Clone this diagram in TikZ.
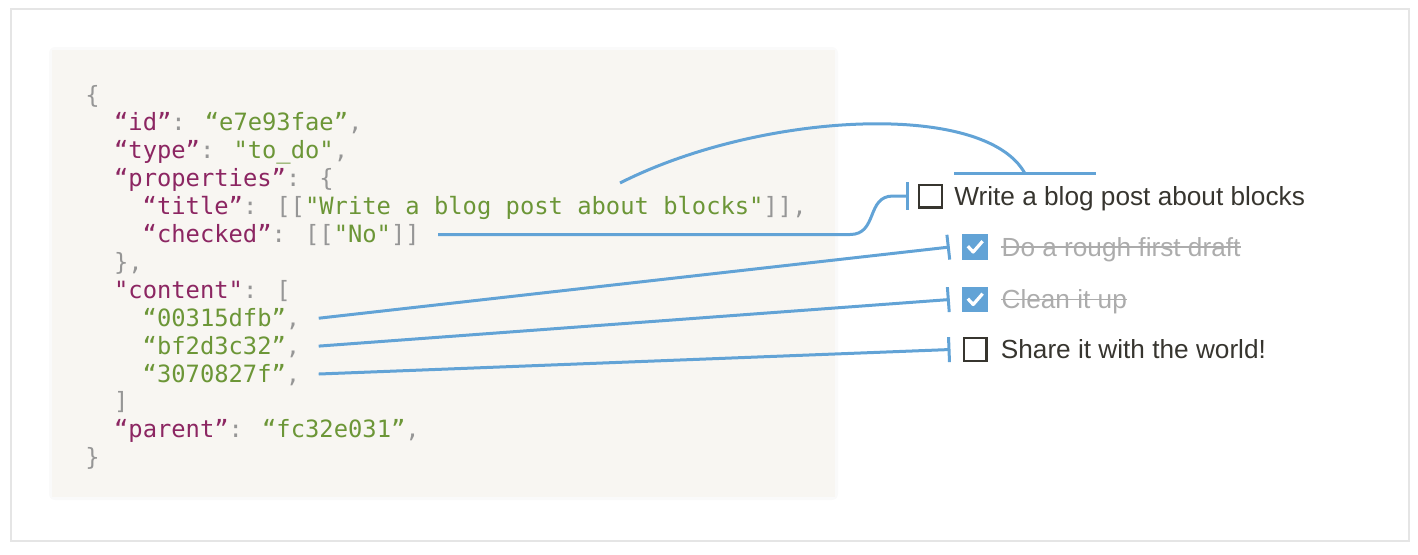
\documentclass[tikz,border=0pt]{standalone}
\usepackage{fontspec}
\usepackage{xcolor}
\usetikzlibrary{positioning,calc,arrows.meta}
\newfontfamily\codefont{DejaVu Sans Mono}
\newfontfamily\itemfont{Liberation Sans}
\definecolor{jkey}{RGB}{140,38,98}
\definecolor{jval}{RGB}{108,150,55}
\definecolor{jpun}{RGB}{150,150,150}
\definecolor{panel}{RGB}{248,246,242}
\definecolor{linkblue}{RGB}{98,163,214}
\definecolor{ink}{RGB}{55,53,47}
\definecolor{done}{RGB}{172,172,172}
\NewDocumentCommand\ky{m}{\textcolor{jkey}{#1}}
\NewDocumentCommand\vl{m}{\textcolor{jval}{#1}}
\NewDocumentCommand\pn{m}{\textcolor{jpun}{#1}}

\begin{document}
\begin{tikzpicture}[x=0.5pt,y=-0.5pt,
  jline/.style={anchor=base west,inner sep=0pt,text height=10pt,text depth=2pt,font=\codefont\fontsize{11.9pt}{14pt}\selectfont},
  cbox/.style={draw=ink,line width=1.1pt,minimum size=11.4pt,inner sep=0pt},
  cboxon/.style={fill=linkblue,minimum size=12.8pt,inner sep=0pt},
  item/.style={anchor=west,inner sep=0pt,text height=11pt,text depth=2pt,text=ink,font=\itemfont\fontsize{13.1pt}{16pt}\selectfont},
  itemdone/.style={item,text=done},
  wire/.style={draw=linkblue,line width=1.5pt,-{Bar[width=12.5pt]}}]
            \useasboundingbox (0,0) rectangle (1418,554);
            \fill[black!2,rounded corners=3pt] (49,47) rectangle (838,500);
            \fill[panel] (52,50) rectangle (835,497);
            \draw[black!10,line width=0.9pt] (11,9) rectangle (1409,541);
            \node[jline] (open) at (85,103) {\pn{\{}};
            \node[jline] (id) at (113.7,130.9) {\ky{“id”}\pn{:} \vl{“e7e93fae”}\pn{,}};
            \node[jline] (type) at (113.7,158.8) {\ky{“type”}\pn{:} \vl{"to\_do"}\pn{,}};
            \node[jline] (props) at (113.7,186.7) {\ky{“properties”}\pn{: \{}};
            \node[jline] (title) at (142.3,214.6) {\ky{“title”}\pn{: [[}\vl{"Write a blog post about blocks"}\pn{]],}};
            \node[jline] (checked) at (142.3,242.5) {\ky{“checked”}\pn{: [[}\vl{"No"}\pn{]]}};
            \node[jline] (propsend) at (113.7,270.4) {\pn{\},}};
            \node[jline] (content) at (113.7,298.3) {\ky{"content"}\pn{: [}};
            \node[jline] (blk1) at (142.3,326.2) {\vl{“00315dfb”}\pn{,}};
            \node[jline] (blk2) at (142.3,354.1) {\vl{“bf2d3c32”}\pn{,}};
            \node[jline] (blk3) at (142.3,382) {\vl{“3070827f”}\pn{,}};
            \node[jline] (contentend) at (113.7,409.9) {\pn{]}};
            \node[jline] (parent) at (113.7,437.8) {\ky{“parent”}\pn{:} \vl{“fc32e031”}\pn{,}};
            \node[jline] (close) at (85,465.7) {\pn{\}}};
            \node[cbox] (box1) at (930.5,196) {};
            \node[item,right=5.5pt of box1] (task1) {Write a blog post about blocks};
            \node[cboxon] (box2) at (975,247) {};
            \node[itemdone,right=6.5pt of box2] (task2) {Do a rough first draft};
            \node[cboxon] (box3) at (975,299.5) {};
            \node[itemdone,right=6.5pt of box3] (task3) {Clean it up};
            \node[cbox] (box4) at (975,349.5) {};
            \node[item,right=6.5pt of box4] (task4) {Share it with the world!};
            \foreach \t in {task2,task3}
              \draw[done,line width=0.8pt] (\t.west) -- (\t.east);
            \foreach \b in {box2,box3}
              \draw[white,line width=1.6pt,line join=round] ([shift={(-3.6pt,0.4pt)}]\b.center) -- ([shift={(-0.9pt,-2.5pt)}]\b.center) -- ([shift={(3.8pt,2.9pt)}]\b.center);
            \coordinate (titlefrom) at (620,183);
            \coordinate (tbarL) at ([yshift=4.5pt]task1.north west);
            \coordinate (tbarR) at ([xshift=71pt]tbarL);
            \draw[wire,-] (tbarL) -- (tbarR);
            \draw[wire,-] (titlefrom) .. controls (760,112) and (985,100) .. ($(tbarL)!0.5!(tbarR)$);
            \draw[wire,-{Bar[width=14pt]}] ([xshift=9pt]checked.east) -- (850,234.5) .. controls (878,234.5) and (866,196) .. (893,196) -- ([xshift=-4.5pt]box1.west);
            \foreach \s/\t in {blk1/box2,blk2/box3,blk3/box4}
              \draw[wire] ([xshift=9pt]\s.east) -- ([xshift=-6pt]\t.west);
        \end{tikzpicture}
\end{document}
